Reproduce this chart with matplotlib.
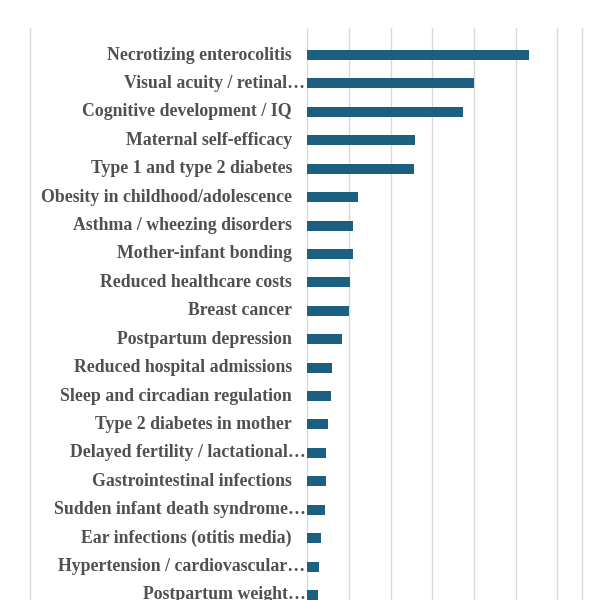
import numpy as np
import matplotlib
matplotlib.use('Agg')
import matplotlib.pyplot as plt
from matplotlib.lines import Line2D

# Benefit categories, top to bottom, as they appear (Excel truncates long ones)
labels = [
    'Necrotizing enterocolitis',
    'Visual acuity / retinal\u2026',
    'Cognitive development / IQ',
    'Maternal self-efficacy',
    'Type 1 and type 2 diabetes',
    'Obesity in childhood/adolescence',
    'Asthma / wheezing disorders',
    'Mother-infant bonding',
    'Reduced healthcare costs',
    'Breast cancer',
    'Postpartum depression',
    'Reduced hospital admissions',
    'Sleep and circadian regulation',
    'Type 2 diabetes in mother',
    'Delayed fertility / lactational\u2026',
    'Gastrointestinal infections',
    'Sudden infant death syndrome\u2026',
    'Ear infections (otitis media)',
    'Hypertension / cardiovascular\u2026',
    'Postpartum weight\u2026',
]
values = [5.33, 4.00, 3.73, 2.59, 2.56, 1.22, 1.10, 1.10, 1.03, 0.99,
          0.83, 0.60, 0.56, 0.49, 0.46, 0.46, 0.42, 0.32, 0.29, 0.26]
x_ticks = [0, 1, 2, 3, 4, 5, 6]

bar_color = '#1d5f80'
grid_color = '#d9d9d9'
text_color = '#505050'

W, H = 606, 600
fig = plt.figure(figsize=(W / 100, H / 100), dpi=100)

x0, x1 = 307.3, 582.3
top = 28
ax = fig.add_axes([x0 / W, 0, (x1 - x0) / W, 1 - top / H])

pitch = 28.42
ypos = np.arange(len(labels))
ax.barh(ypos, values, height=10 / pitch, color=bar_color, zorder=3)

ax.set_xlim(0, 6.6)
ax.set_ylim(ypos[0] + (H - 55) / pitch, -(55 - top) / pitch)

ax.set_xticks(x_ticks)
ax.xaxis.grid(True, color=grid_color, linewidth=1.0, zorder=0)
ax.tick_params(length=0, labelbottom=False, labelleft=False)
ax.set_yticks([])
for s in ['top', 'bottom', 'left']:
    ax.spines[s].set_visible(False)
ax.spines['right'].set_color(grid_color)
ax.spines['right'].set_linewidth(1.0)

# category labels: full ones end before the axis, truncated ones run up to it
trans = ax.get_yaxis_transform()
for y, lab in zip(ypos, labels):
    truncated = lab.endswith('\u2026')
    xt = (305.5 - x0) / (x1 - x0) if truncated else (292 - x0) / (x1 - x0)
    ax.text(xt, y, lab, transform=trans, ha='right', va='center',
            fontsize=12.8, fontweight='bold', family='Liberation Serif',
            color=text_color)

# light border line on the left of the chart area
fig.add_artist(Line2D([30 / W, 30 / W], [0, 1 - top / H], color=grid_color,
                      linewidth=1.0))

fig.savefig('out.png', dpi=100)
